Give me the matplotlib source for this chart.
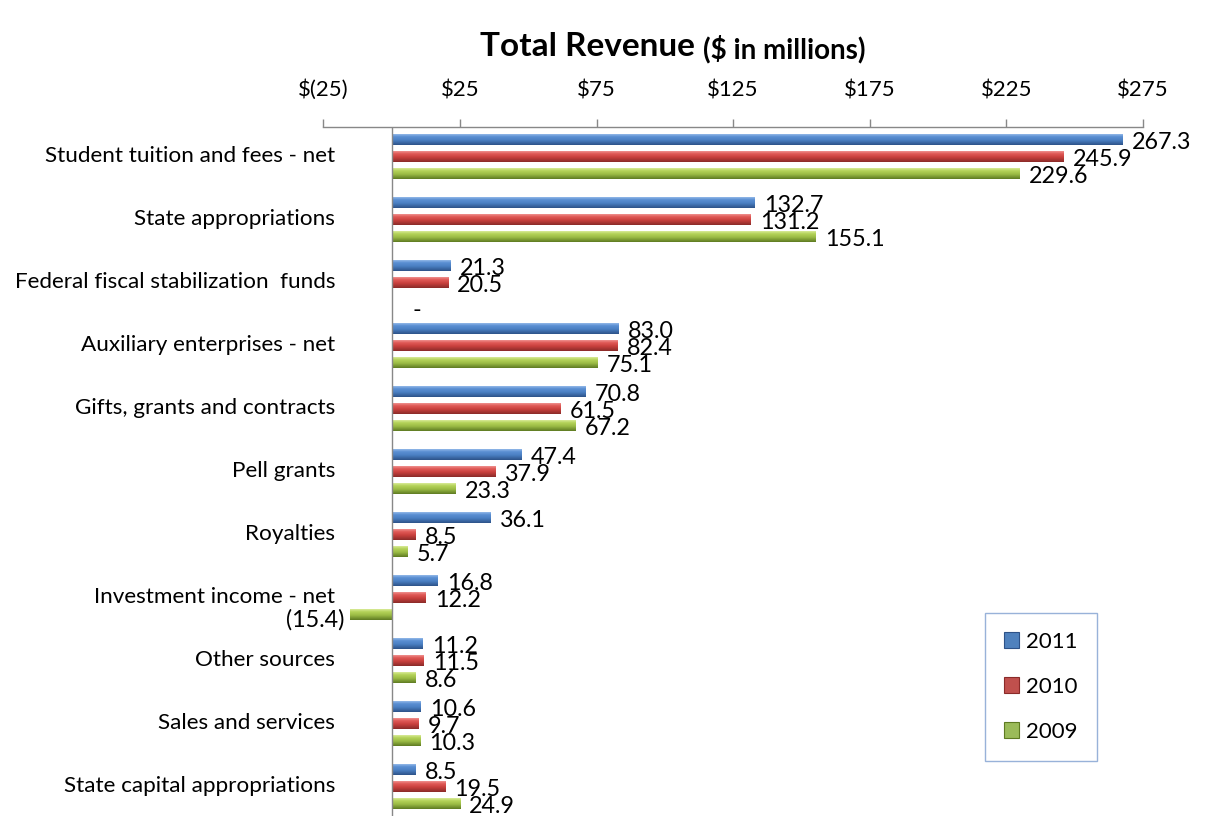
import numpy as np
import matplotlib
matplotlib.use("Agg")
import matplotlib.pyplot as plt
from matplotlib.patches import Rectangle
from matplotlib.colors import to_rgb
import matplotlib.transforms as mtransforms

plt.rcParams['font.family'] = ['Lato', 'DejaVu Sans']

categories = ["Student tuition and fees - net", "State appropriations",
              "Federal fiscal stabilization  funds", "Auxiliary enterprises - net",
              "Gifts, grants and contracts", "Pell grants", "Royalties",
              "Investment income - net", "Other sources", "Sales and services",
              "State capital appropriations"]
v2011 = [267.3, 132.7, 21.3, 83.0, 70.8, 47.4, 36.1, 16.8, 11.2, 10.6, 8.5]
v2010 = [245.9, 131.2, 20.5, 82.4, 61.5, 37.9, 8.5, 12.2, 11.5, 9.7, 19.5]
v2009 = [229.6, 155.1, 0.0, 75.1, 67.2, 23.3, 5.7, -15.4, 8.6, 10.3, 24.9]
series_names = ["2011", "2010", "2009"]
tick_values = [-25, 25, 75, 125, 175, 225, 275]
tick_labels = ["$(25)", "$25", "$75", "$125", "$175", "$225", "$275"]

W, H = 1205, 816
fig = plt.figure(figsize=(W / 100, H / 100), dpi=100)
ax_left, ax_right = 323.3, 1143.0
ax_top, ax_bot = 126.7, 819.7
ax = fig.add_axes([ax_left / W, (H - ax_bot) / H, (ax_right - ax_left) / W, (ax_bot - ax_top) / H])

gradients = {
    "2011": ["#a9c8f0", "#5b8fd3", "#4a7fc2", "#2d5288"],
    "2010": ["#f4a6a4", "#e05a57", "#c8403d", "#8a2b29"],
    "2009": ["#e6f3b0", "#b5d35a", "#9bbb45", "#5e7a22"],
}
base_col = {"2011": "#4f81bd", "2010": "#c0504d", "2009": "#9bbb59"}

pitch = 0.27
bh = 0.175
y = np.arange(len(categories))
series = [v2011, v2010, v2009]
LBL = 16.8
CAT = 16.2


def grad_img(cols, n=64):
    stops = [0.0, 0.3, 0.6, 1.0]
    rgb = np.array([to_rgb(c) for c in cols])
    t = np.linspace(0, 1, n)
    arr = np.stack([np.interp(t, stops, rgb[:, k]) for k in range(3)], axis=-1)
    return arr[:, None, :]


for i, (name, vals) in enumerate(zip(series_names, series)):
    ys = y + (i - 1) * pitch
    bars = ax.barh(ys, vals, height=bh, color=base_col[name], edgecolor="none", zorder=2)
    img = grad_img(gradients[name])
    for b in bars:
        x0 = b.get_x()
        w = b.get_width()
        if w == 0:
            continue
        yb = b.get_y()
        h = b.get_height()
        im = ax.imshow(img, extent=(min(x0, x0 + w), max(x0, x0 + w), yb + h, yb),
                       origin="upper", aspect="auto", zorder=3, interpolation="bilinear")
        im.set_clip_path(b)
    for yy, v in zip(ys, vals):
        if v > 0:
            ax.annotate(f"{v:.1f}", (v, yy), xytext=(7, -2), textcoords="offset points",
                        ha="left", va="center", fontsize=LBL, color="#000000", zorder=5)
        elif v == 0:
            ax.annotate("-", (v, yy), xytext=(15, -8), textcoords="offset points",
                        ha="left", va="center", fontsize=LBL, color="#000000", zorder=5)
        else:
            ax.annotate(f"({abs(v):.1f})", (v, yy), xytext=(-4, -4), textcoords="offset points",
                        ha="right", va="center", fontsize=LBL, color="#000000", zorder=5)

ax.set_xlim(-25, 275)
ax.set_ylim(10.527, -0.473)

ax.xaxis.tick_top()
ax.set_xticks(tick_values)
ax.set_xticklabels(tick_labels, fontsize=16)
ax.tick_params(axis="x", direction="out", length=6, width=1, color="#888888", pad=13)
ax.set_yticks([])
for s in ["bottom", "right", "left"]:
    ax.spines[s].set_visible(False)
ax.spines["top"].set_color("#888888")
ax.spines["top"].set_linewidth(1)
ax.axvline(0, color="#888888", lw=1, zorder=4)

trans = mtransforms.blended_transform_factory(ax.transAxes, ax.transData)
for yy, c in zip(y, categories):
    ax.text(0.0143, yy, c, transform=trans, ha="right", va="center", fontsize=CAT, color="#000000")

handles = [Rectangle((0, 0), 1, 1, facecolor=base_col[n], edgecolor=gradients[n][3], lw=0.8) for n in series_names]
leg = fig.legend(handles, series_names, loc="upper left",
                 bbox_to_anchor=(985 / W, 1 - 613 / H), bbox_transform=fig.transFigure,
                 fontsize=16, frameon=True, fancybox=False, handlelength=0.7, handleheight=0.7,
                 handletextpad=0.3, labelspacing=1.12, borderpad=0.85, borderaxespad=0)
leg.get_frame().set_edgecolor("#7f9fd0")
leg.get_frame().set_linewidth(1.0)

t1 = fig.text(480 / W, 1 - 46 / H, "Total Revenue", fontsize=24, fontweight="bold", ha="left", va="center")
fig.canvas.draw()
r = fig.canvas.get_renderer()
bb = t1.get_window_extent(r)
fig.text((bb.x1 + 8) / W, 1 - 49 / H, "($ in millions)", fontsize=20, fontweight="bold", ha="left", va="center")

fig.savefig("out.png", dpi=100)
